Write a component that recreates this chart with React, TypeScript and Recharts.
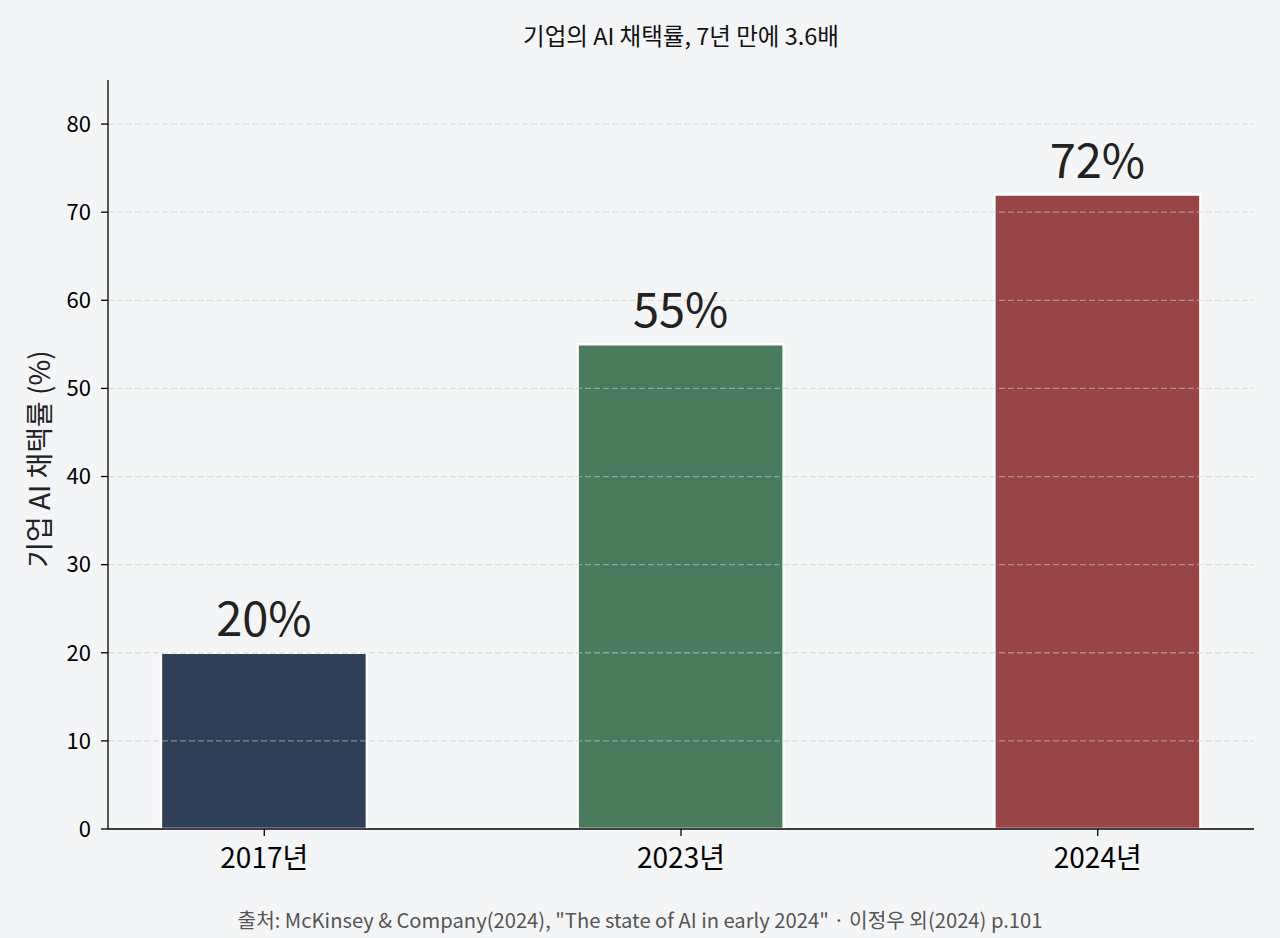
import React from 'react';
import { BarChart, Bar, XAxis, YAxis, Cell, LabelList, ReferenceLine } from 'recharts';

const categories = ['2017년', '2023년', '2024년'];
const adoption = [20, 55, 72];
const barColors = ['#2e3f57', '#4b7b5d', '#9a4545'];
const yTicks = [0, 10, 20, 30, 40, 50, 60, 70, 80];

const title = '기업의 AI 채택률, 7년 만에 3.6배';
const yLabel = '기업 AI 채택률 (%)';
const source = '출처: McKinsey & Company(2024), "The state of AI in early 2024" · 이정우 외(2024) p.101';

const data = categories.map((c, i) => ({ pos: i, label: c, value: adoption[i] }));

const FONT = '"Noto Sans CJK KR", "Noto Sans", sans-serif';

export default function App() {
  return (
    <div style={{ position: 'absolute', left: 0, top: 0, width: 1280, height: 938, background: '#f4f5f7', fontFamily: FONT }}>
      <div style={{ position: 'absolute', left: 108, width: 1146, top: 19, textAlign: 'center', fontSize: 23.5, color: '#111', lineHeight: '32px' }}>
        {title}
      </div>
      <div style={{ position: 'absolute', left: 38, top: 459, transform: 'translate(-50%, -50%) rotate(-90deg)', whiteSpace: 'nowrap', fontSize: 28, color: '#222' }}>
        {yLabel}
      </div>
      <div style={{ position: 'absolute', left: 0, width: 1280, top: 905, textAlign: 'center', fontSize: 20.2, color: '#555', lineHeight: '30px' }}>
        {source}
      </div>
      <BarChart width={1280} height={938} data={data} margin={{ top: 80, right: 26, bottom: 69, left: 40 }} style={{ position: 'absolute', left: 0, top: 0 }}>
        <XAxis
          dataKey="pos"
          type="number"
          domain={[-0.375, 2.375]}
          ticks={[0, 1, 2]}
          allowDataOverflow
          tickFormatter={(v: number) => categories[v]}
          height={40}
          tickSize={7}
          tickMargin={12}
          axisLine={{ stroke: '#000', strokeWidth: 1.3 }}
          tickLine={{ stroke: '#000', strokeWidth: 1.3 }}
          tick={{ fill: '#000', fontSize: 28, fontFamily: FONT }}
        />
        <YAxis
          type="number"
          domain={[0, 85]}
          ticks={yTicks}
          width={68}
          tickSize={7}
          tickMargin={10}
          axisLine={{ stroke: '#000', strokeWidth: 1.3 }}
          tickLine={{ stroke: '#000', strokeWidth: 1.3 }}
          tick={{ fill: '#000', fontSize: 22, fontFamily: FONT }}
        />
        <Bar dataKey="value" barSize={206} stroke="#ffffff" strokeWidth={2.5} isAnimationActive={false}>
          {data.map((d, i) => (
            <Cell key={d.label} fill={barColors[i]} />
          ))}
          <LabelList
            dataKey="value"
            position="top"
            offset={17}
            formatter={(v: number) => `${v}%`}
            style={{ fontSize: 47, fill: '#222', fontFamily: FONT }}
          />
        </Bar>
        {yTicks.filter((t) => t > 0).map((t) => (
          <ReferenceLine key={t} y={t} stroke="#c8c8c8" strokeOpacity={0.55} strokeWidth={1.3} strokeDasharray="6 3" />
        ))}
      </BarChart>
    </div>
  );
}
